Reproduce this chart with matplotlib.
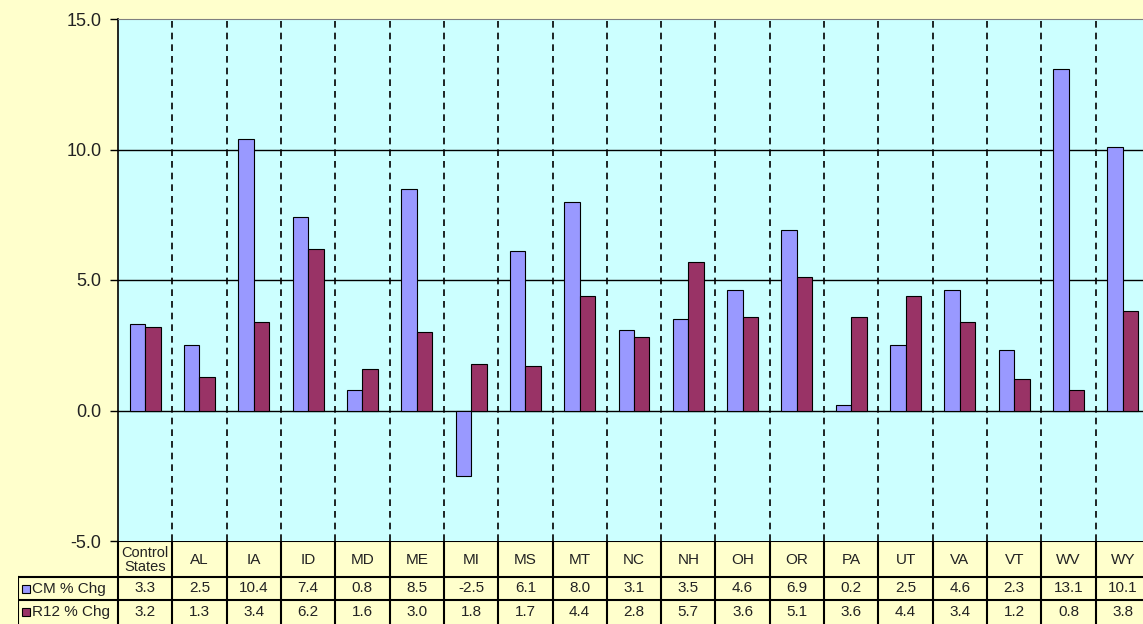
import numpy as np
from matplotlib import pyplot as plt
from matplotlib.patches import Rectangle

states = ['Control\nStates', 'AL', 'IA', 'ID', 'MD', 'ME', 'MI', 'MS', 'MT', 'NC',
          'NH', 'OH', 'OR', 'PA', 'UT', 'VA', 'VT', 'WV', 'WY']
cm_chg = [3.3, 2.5, 10.4, 7.4, 0.8, 8.5, -2.5, 6.1, 8.0, 3.1,
          3.5, 4.6, 6.9, 0.2, 2.5, 4.6, 2.3, 13.1, 10.1]
r12_chg = [3.2, 1.3, 3.4, 6.2, 1.6, 3.0, 1.8, 1.7, 4.4, 2.8,
           5.7, 3.6, 5.1, 3.6, 4.4, 3.4, 1.2, 0.8, 3.8]
series_names = ['CM % Chg', 'R12 % Chg']
y_ticks = [-5.0, 0.0, 5.0, 10.0, 15.0]

cm_color = '#9999FF'
r12_color = '#993366'
bg = '#FFFFCC'
plot_bg = '#CCFFFF'

plt.rcParams['font.family'] = ['Liberation Sans', 'DejaVu Sans']

W, H = 1143, 624
fig = plt.figure(figsize=(W / 100, H / 100), dpi=100, facecolor=bg)

# main plot area in pixels: x 118..1150, y 19..541
left, right, top, bottom = 118, 1150, 19, 541
ax = fig.add_axes([left / W, (H - bottom) / H, (right - left) / W, (bottom - top) / H])
ax.set_facecolor(plot_bg)

n = len(states)
x = np.arange(n)
bw = 0.285
ax.bar(x - bw / 2, cm_chg, bw, color=cm_color, edgecolor='black', linewidth=0.8, zorder=3)
ax.bar(x + bw / 2, r12_chg, bw, color=r12_color, edgecolor='black', linewidth=0.8, zorder=3)

ax.set_xlim(-0.5, n - 0.5)
ax.set_ylim(-5, 15)
ax.set_yticks(y_ticks)
ax.set_yticklabels([f'{v:.1f}' for v in y_ticks], fontsize=13, color='#222222')
ax.tick_params(axis='y', length=6, width=1, pad=6)
ax.set_xticks([])

for v in [0, 5, 10]:
    ax.axhline(v, color='black', linewidth=1, zorder=2)
for i in range(1, n):
    ax.axvline(i - 0.5, color='black', linewidth=1.2, linestyle=(0, (4, 3)), zorder=2)

for s in ['right', 'bottom']:
    ax.spines[s].set_visible(False)
ax.spines['top'].set_color('#808080')
ax.spines['left'].set_linewidth(1.2)

# data table below the plot
tleft = 18
unit = (right - left) / n
tax = fig.add_axes([tleft / W, 0, (right - tleft) / W, (H - bottom) / H])
tax.set_xlim(-0.5 - (left - tleft) / unit, n - 0.5)
tax.set_ylim(0, H - bottom)
tax.axis('off')
tax.patch.set_visible(False)

rows_y = [H - bottom, 47, 24, 0]
lw = 1.5
x0 = -0.5 - (left - tleft) / unit
# horizontal lines
tax.plot([-0.5, n - 0.5], [rows_y[0], rows_y[0]], color='black', lw=lw)
for yy in rows_y[1:3]:
    tax.plot([x0, n - 0.5], [yy, yy], color='black', lw=lw)
# vertical lines
for i in range(n + 1):
    tax.plot([i - 0.5, i - 0.5], [0, rows_y[0]], color='black', lw=lw)
tax.plot([x0, x0], [0, rows_y[1]], color='black', lw=lw)

for i, st in enumerate(states):
    tax.text(i, (rows_y[0] + rows_y[1]) / 2 - 1, st, ha='center', va='center',
             fontsize=10.5 if '\n' in st else 11, linespacing=1.0, color='#222222')
    tax.text(i, (rows_y[1] + rows_y[2]) / 2, f'{cm_chg[i]:.1f}', ha='center', va='center',
             fontsize=11, color='#222222')
    tax.text(i, (rows_y[2] + rows_y[3]) / 2, f'{r12_chg[i]:.1f}', ha='center', va='center',
             fontsize=11, color='#222222')

key_w = 8 / unit
for j, (name, col) in enumerate(zip(series_names, [cm_color, r12_color])):
    yc = (rows_y[j + 1] + rows_y[j + 2]) / 2
    tax.add_patch(Rectangle((x0 + 4 / unit, yc - 4), key_w, 8, facecolor=col,
                            edgecolor='black', lw=0.8))
    tax.text(x0 + 14 / unit, yc, name, ha='left', va='center', fontsize=11, color='#222222')

fig.savefig('out.png', dpi=100, facecolor=bg)
